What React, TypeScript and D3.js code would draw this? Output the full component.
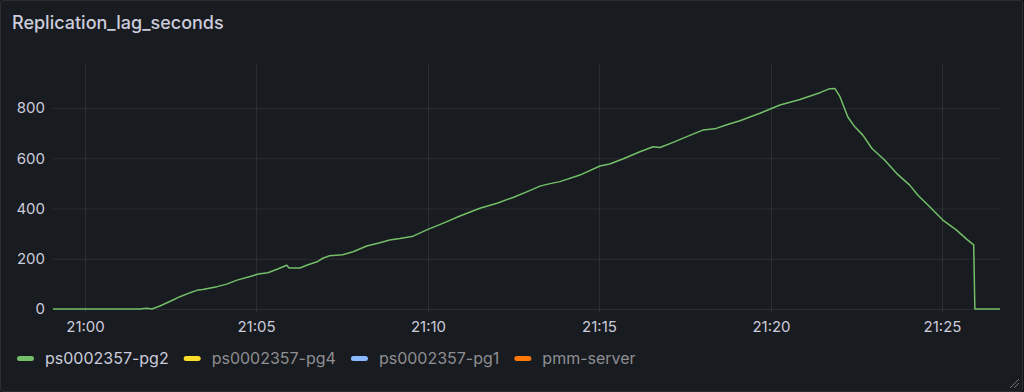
import React, { useEffect, useRef } from "react";
import * as d3 from "d3";

const title = "Replication_lag_seconds";
const seriesNames = ["ps0002357-pg2", "ps0002357-pg4", "ps0002357-pg1", "pmm-server"];
const seriesColors = ["#73bf69", "#fade2a", "#8ab8ff", "#ff780a"];
const seriesHidden = [false, true, true, true];
const timeStart = "20:59:04";
const timeEnd = "21:26:41";
const xTickLabels = ["21:00", "21:05", "21:10", "21:15", "21:20", "21:25"];
const yTicks = [0, 200, 400, 600, 800];

const pg2Times = [
  "20:59:04", "21:01:36", "21:01:48", "21:01:57", "21:02:11", "21:02:34", "21:02:46", "21:03:04",
  "21:03:18", "21:03:26", "21:03:51", "21:04:08", "21:04:26", "21:04:49", "21:05:03", "21:05:20",
  "21:05:36", "21:05:53", "21:05:57", "21:06:16", "21:06:28", "21:06:46", "21:06:56", "21:07:08",
  "21:07:31", "21:07:49", "21:08:13", "21:08:36", "21:08:53", "21:09:11", "21:09:34", "21:10:00",
  "21:10:26", "21:10:56", "21:11:31", "21:12:01", "21:12:29", "21:12:58", "21:13:16", "21:13:30",
  "21:13:51", "21:14:26", "21:15:01", "21:15:18", "21:15:41", "21:16:11", "21:16:34", "21:16:46",
  "21:17:08", "21:17:33", "21:18:01", "21:18:22", "21:18:43", "21:19:06", "21:19:41", "21:20:16",
  "21:20:51", "21:21:26", "21:21:43", "21:21:52", "21:22:01", "21:22:10", "21:22:15", "21:22:27",
  "21:22:41", "21:22:57", "21:23:19", "21:23:40", "21:24:03", "21:24:17", "21:24:38", "21:25:01",
  "21:25:25", "21:25:43", "21:25:55", "21:25:57", "21:26:41",
];
const pg2Values = [
  0, 0, 3, 0, 12, 36, 49, 65,
  76, 78, 89, 99, 115, 129, 139, 144,
  158, 174, 163, 163, 174, 188, 202, 212,
  216, 228, 251, 264, 275, 281, 290, 317,
  341, 370, 401, 421, 444, 471, 489, 497,
  507, 533, 569, 577, 597, 626, 646, 643,
  662, 686, 712, 717, 733, 749, 779, 812,
  834, 861, 877, 878, 845, 792, 763, 725,
  692, 639, 593, 540, 493, 454, 407, 354,
  314, 277, 255, 0, 0,
];

const parseT = (s: string) => {
  const [h, m, sec] = s.split(":").map(Number);
  return new Date(2024, 0, 1, h, m, sec);
};

export default function App() {
  const ref = useRef<SVGSVGElement>(null);

  useEffect(() => {
    const W = 1024, H = 392;
    const svg = d3.select(ref.current!);
    svg.selectAll("*").remove();

    const left = 53, right = 1000, top = 63, bottom = 313;
    const x = d3.scaleTime().domain([parseT(timeStart), parseT(timeEnd)]).range([left, right]);
    const y = d3.scaleLinear().domain([0, 800]).range([309, 108]);

    svg.append("rect").attr("width", W).attr("height", H).attr("fill", "#111217");
    svg.append("rect").attr("x", 0.5).attr("y", 0.5).attr("width", W - 2).attr("height", H - 1)
      .attr("rx", 2).attr("fill", "#181b1f").attr("stroke", "#2c2e33");

    svg.append("text").attr("x", 12).attr("y", 29).text(title)
      .attr("fill", "#ccccdc").attr("font-family", "Inter").attr("font-size", 18).attr("font-weight", 500);

    const font = "Inter";
    const g = svg.append("g");
    yTicks.forEach((v) => {
      g.append("line").attr("x1", left).attr("x2", right).attr("y1", y(v) + 0.5).attr("y2", y(v) + 0.5)
        .attr("stroke", "#ccccdc").attr("stroke-opacity", 0.1);
      g.append("text").attr("x", 45).attr("y", y(v)).attr("dy", "0.35em").attr("text-anchor", "end")
        .text(String(v)).attr("fill", "#ccccdc").attr("font-family", font).attr("font-size", 15);
    });
    xTickLabels.forEach((lbl) => {
      const xx = Math.round(x(parseT(lbl + ":00"))) + 0.5;
      g.append("line").attr("x1", xx).attr("x2", xx).attr("y1", top).attr("y2", bottom)
        .attr("stroke", "#ccccdc").attr("stroke-opacity", 0.1);
      g.append("text").attr("x", xx).attr("y", 327).attr("dy", "0.35em").attr("text-anchor", "middle")
        .text(lbl).attr("fill", "#ccccdc").attr("font-family", font).attr("font-size", 15);
    });

    const data = pg2Times.map((t, i) => ({ t: parseT(t), v: pg2Values[i] }));
    const line = d3.line<{ t: Date; v: number }>().x((d) => x(d.t)).y((d) => y(d.v));
    svg.append("path").datum(data).attr("d", line).attr("fill", "none")
      .attr("stroke", seriesColors[0]).attr("stroke-width", 1.5).attr("stroke-linejoin", "round");

    let lx = 17;
    seriesNames.forEach((name, i) => {
      svg.append("rect").attr("x", lx).attr("y", 356).attr("width", 17).attr("height", 5).attr("rx", 2.5)
        .attr("fill", seriesColors[i]);
      const t = svg.append("text").attr("x", lx + 28).attr("y", 358.5).attr("dy", "0.35em").text(name)
        .attr("fill", seriesHidden[i] ? "#8e8e93" : "#ccccdc").attr("font-family", font).attr("font-size", 16);
      const w = (t.node() as SVGTextElement).getComputedTextLength();
      lx = lx + 28 + w + 15;
    });

    svg.append("path").attr("d", "M1010,388 L1019,379 M1014,388 L1019,383").attr("stroke", "#6e7076")
      .attr("stroke-width", 1);
  }, []);

  return (
    <div style={{ position: "absolute", left: 0, top: 0 }}>
      <svg ref={ref} width={1024} height={392} style={{ display: "block" }} />
    </div>
  );
}
